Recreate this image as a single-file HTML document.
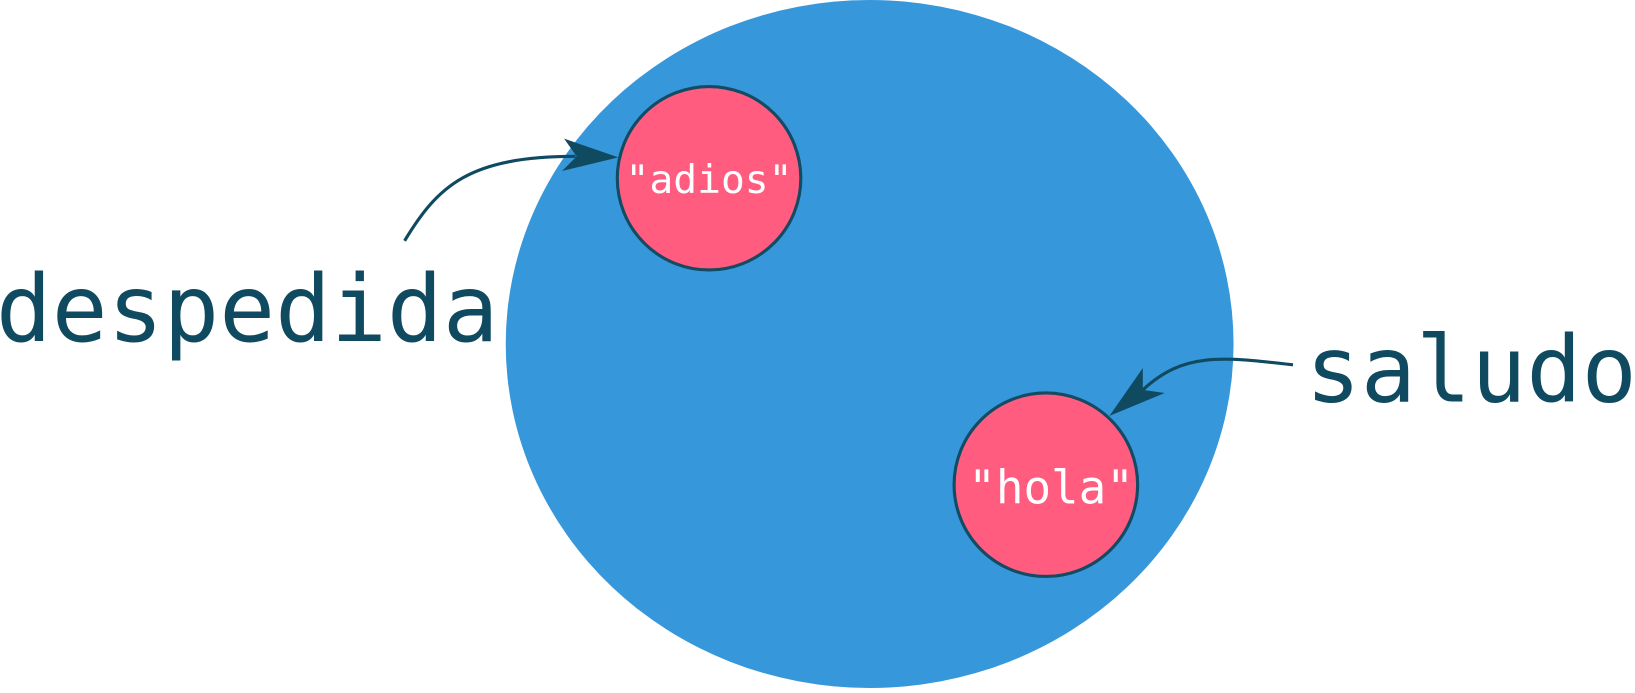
<!DOCTYPE html>
<html><head><meta charset="utf-8"><style>html,body{margin:0;padding:0;background:#fff;overflow:hidden}</style></head>
<body>
<svg width="1635" height="688" viewBox="0 0 1568 660" preserveAspectRatio="none" xmlns="http://www.w3.org/2000/svg">
<ellipse cx="834" cy="330" rx="349" ry="330" fill="#3797db"/>
<circle cx="680" cy="171" r="88" fill="#ff5c80" stroke="#134b63" stroke-width="3"/>
<circle cx="1003" cy="465" r="88" fill="#ff5c80" stroke="#134b63" stroke-width="3"/>
<text x="680" y="185" text-anchor="middle" font-family="DejaVu Sans Mono, Liberation Mono, monospace" font-size="38" fill="#fff">"adios"</text>
<text x="1008" y="483" text-anchor="middle" font-family="DejaVu Sans Mono, Liberation Mono, monospace" font-size="44" fill="#fff">"hola"</text>
<path d="M388 231 C420 178 450 150 552 150" fill="none" stroke="#0f4a60" stroke-width="3"/>
<polygon points="593,151 541,133 553,150 539,164" fill="#0f4a60"/>
<path d="M1240 350 C1170 342 1135 338 1096 374" fill="none" stroke="#0f4a60" stroke-width="3"/>
<polygon points="1064,399 1096,353 1096,374 1117,377" fill="#0f4a60"/>
<text x="-4" y="327" font-family="DejaVu Sans Mono, Liberation Mono, monospace" font-size="89" fill="#0f4a60">despedida</text>
<text x="1252" y="385" font-family="DejaVu Sans Mono, Liberation Mono, monospace" font-size="88" fill="#0f4a60">saludo</text>
</svg>
</body></html>
